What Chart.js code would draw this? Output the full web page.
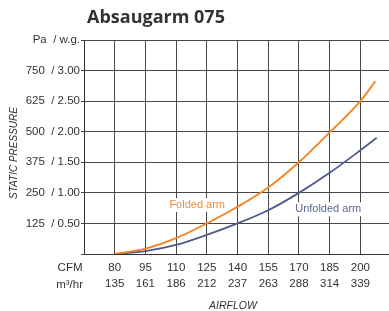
<!DOCTYPE html>
<html><head><meta charset="utf-8">
<script src="https://cdn.jsdelivr.net/npm/chart.js@4"></script>
<style>html,body{margin:0;padding:0;background:#fff}#wrap{width:389px;height:311px}</style>
</head><body><div id="wrap"><canvas id="c" width="389" height="311"></canvas></div>
<script>
const chartTitle = "Absaugarm 075";
const cfmTicks = [80, 95, 110, 125, 140, 155, 170, 185, 200];
const m3hrTicks = [135, 161, 186, 212, 237, 263, 288, 314, 339];
const pressureTicksPa = [125, 250, 375, 500, 625, 750];
const pressureTicksWg = ["0.50", "1.00", "1.50", "2.00", "2.50", "3.00"];
const foldedCfm = [80, 95, 110, 125, 140, 155, 170, 185, 200, 207.3];
const foldedPa = [0, 22, 65, 125, 193, 272, 375, 497, 625, 706];
const unfoldedCfm = [80, 95, 110, 125, 140, 155, 170, 185, 200, 208];
const unfoldedPa = [0, 12, 37, 78, 125, 179, 250, 332, 424, 475];

const ORANGE = '#F4821F';
const NAVY = '#4D5B88';
const TEXT = '#333';
const FONT = '"Liberation Sans", Arial, sans-serif';

const textPlugin = {
  id: 'texts',
  beforeDatasetsDraw(chart) {
    const ctx = chart.ctx, x = chart.scales.x, y = chart.scales.y;
    ctx.save();
    ctx.font = '11px ' + FONT;
    ctx.textAlign = 'center';
    ctx.textBaseline = 'middle';
    const labels = [
      ['Folded arm', 120.3, 200, '#F08A35'],
      ['Unfolded arm', 184.3, 183, '#5B6794']
    ];
    labels.forEach(([t, cx, cy, col]) => {
      const px = x.getPixelForValue(cx), py = y.getPixelForValue(cy);
      const w = ctx.measureText(t).width;
      ctx.fillStyle = '#fff';
      ctx.fillRect(px - w / 2 - 1, py - 7, w + 2, 14);
      ctx.fillStyle = col;
      ctx.fillText(t, px, py);
    });
    ctx.restore();
  },
  afterDraw(chart) {
    const ctx = chart.ctx;
    ctx.save();
    ctx.fillStyle = TEXT;
    ctx.font = 'bold 18px "Open Sans", sans-serif';
    ctx.textAlign = 'center';
    ctx.textBaseline = 'alphabetic';
    ctx.fillText(chartTitle, 156, 23);

    ctx.font = 'italic 10px ' + FONT;
    ctx.textBaseline = 'middle';
    ctx.save();
    ctx.translate(14, 153);
    ctx.rotate(-Math.PI / 2);
    ctx.fillText('STATIC PRESSURE', 0, 0);
    ctx.restore();

    ctx.font = 'italic 10.5px ' + FONT;
    ctx.fillText('AIRFLOW', 233, 306);

    ctx.font = '11.5px ' + FONT;
    ctx.textAlign = 'right';
    ctx.fillText('CFM', 82.5, 268);
    ctx.fillText('m³/hr', 83, 285);
    ctx.restore();
  }
};

new Chart(document.getElementById('c'), {
  type: 'line',
  data: {
    datasets: [
      {
        label: 'Folded arm',
        data: foldedCfm.map((v, i) => ({ x: v, y: foldedPa[i] })),
        borderColor: ORANGE, borderWidth: 1.8, pointRadius: 0,
        cubicInterpolationMode: 'monotone', fill: false
      },
      {
        label: 'Unfolded arm',
        data: unfoldedCfm.map((v, i) => ({ x: v, y: unfoldedPa[i] })),
        borderColor: NAVY, borderWidth: 1.8, pointRadius: 0,
        cubicInterpolationMode: 'monotone', fill: false
      }
    ]
  },
  options: {
    responsive: false,
    animation: false,
    devicePixelRatio: 1,
    layout: { padding: { top: 40, left: 0, right: 0, bottom: 0 } },
    plugins: { legend: { display: false }, tooltip: { enabled: false }, title: { display: false } },
    scales: {
      x: {
        type: 'linear', min: 65, max: 214,
        afterBuildTicks: s => { s.ticks = [65, ...cfmTicks].map(v => ({ value: v })); },
        afterFit: s => { s.height = 57; },
        ticks: {
          autoSkip: false, maxRotation: 0, padding: 5, color: TEXT,
          font: { family: FONT, size: 11.5, lineHeight: 1.45 },
          callback: v => { const i = cfmTicks.indexOf(v); return i < 0 ? '' : [String(v), String(m3hrTicks[i])]; }
        },
        grid: { color: '#474747', lineWidth: 1, drawTicks: false },
        border: { color: '#333', width: 1 }
      },
      y: {
        type: 'linear', min: 0, max: 875,
        afterFit: s => { s.width = 84; },
        ticks: {
          stepSize: 125, padding: 1, color: TEXT,
          font: { family: FONT, size: 11.5 },
          callback: v => {
            if (v === 875) return 'Pa  / w.g.';
            const i = pressureTicksPa.indexOf(v);
            return i < 0 ? '' : v + '  / ' + pressureTicksWg[i];
          }
        },
        grid: { color: '#474747', lineWidth: 1, tickLength: 3 },
        border: { color: '#333', width: 1 }
      }
    }
  },
  plugins: [textPlugin]
});
</script>
</body></html>
